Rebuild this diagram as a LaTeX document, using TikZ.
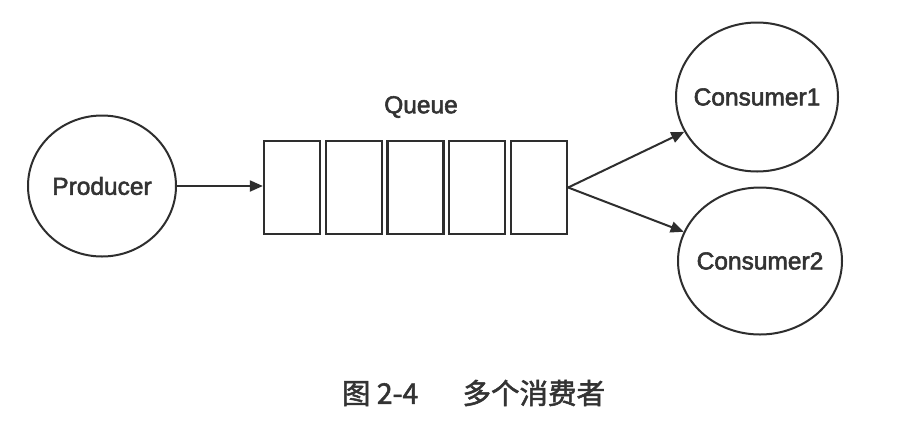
\documentclass[tikz,border=0pt]{standalone}
\usepackage{fontspec}
\setmainfont{Liberation Sans}[FakeBold=2.2]
\newfontfamily\cjk{Noto Sans CJK SC}[FakeBold=1.8]
\usetikzlibrary{shapes.geometric,arrows.meta}
\definecolor{ink}{HTML}{2E2E2E}
\definecolor{txt}{HTML}{333333}
\tikzset{
  lbl/.style={font=\fontsize{24.5}{28}\selectfont, text=txt},
  circ/.style={draw=ink, line width=2pt, ellipse, inner sep=0pt},
  cell/.style={draw=ink, line width=2.3pt, rectangle, minimum width=56pt, minimum height=93pt, inner sep=0pt},
  conn/.style={draw=ink, line width=2pt, -{Triangle[length=13pt,width=11pt]}},
}
\begin{document}
\begin{tikzpicture}[x=1pt,y=-1pt]
\fill[white] (0,0) rectangle (911,432);
\useasboundingbox (0,0) rectangle (911,432);
\node[circ, minimum width=148pt, minimum height=141pt, label={[lbl]center:Producer}] (prod) at (102,186) {};
\node[circ, minimum width=162pt, minimum height=149pt, label={[lbl]center:Consumer1}] (c1) at (757,97) {};
\node[circ, minimum width=164pt, minimum height=147pt, label={[lbl]center:Consumer2}] (c2) at (760,261) {};
\node[cell] (q1) at (292,187.5) {};
\node[cell] (q2) at (354,187.5) {};
\node[cell] (q3) at (415.5,187.5) {};
\node[cell] (q4) at (477,187.5) {};
\node[cell] (q5) at (539,187.5) {};
\node[lbl] (ql) at (421,107) {Queue};
\draw[conn] (prod.east) -- (prod.east -| q1.west);
\draw[conn] (q5.east) -- (c1);
\draw[conn] (q5.east) -- (c2);
\node[font=\fontsize{28.5}{32}\selectfont\cjk, text=txt, inner sep=0pt] (cap) at (473.5,393) {图 2-4\hspace{1.55em}多个消费者};
\end{tikzpicture}
\end{document}
